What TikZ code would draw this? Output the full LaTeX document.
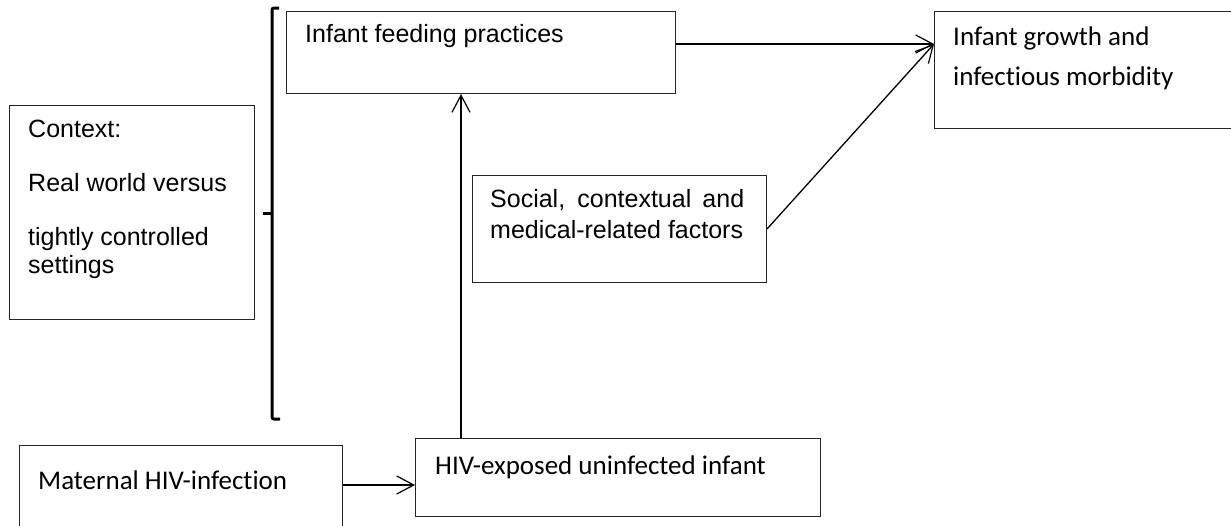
\documentclass[tikz,border=0pt]{standalone}
\usepackage{fontspec}
\setmainfont{Liberation Sans}
\newfontfamily\calibrifont[Ligatures={NoCommon,NoContextual}]{Carlito}
\usetikzlibrary{arrows.meta}
\tikzset{
  box/.style={draw=black!85, line width=1pt, inner sep=0pt, anchor=north west},
  ar/.style={font=\fontsize{25}{28}\selectfont, inner sep=0pt, anchor=base west},
  cb/.style={font=\calibrifont\fontsize{27}{32}\selectfont, inner sep=0pt, anchor=base west},
  arr/.style={line width=1.3pt, -{Straight Barb[length=17pt,width=18pt,line width=1.2pt]}},
  brk/.style={line width=3pt, rounded corners=2pt}
}
\begin{document}
\begin{tikzpicture}[x=1pt,y=-1pt]
\useasboundingbox (0,0) rectangle (1231,525);
% boxes
\node[box, minimum width=389pt, minimum height=82pt] (feed) at (286,11) {};
\node[box, minimum width=306pt, minimum height=117pt] (growth) at (934,11) {};
\node[box, minimum width=245pt, minimum height=214pt] (context) at (9,105) {};
\node[box, minimum width=294pt, minimum height=107pt] (social) at (472,175) {};
\node[box, minimum width=323pt, minimum height=100pt] (mat) at (19,445) {};
\node[box, minimum width=405pt, minimum height=78pt] (hiv) at (415,438) {};
% texts
\node[ar] (tfeed) at (305,42) {Infant feeding practices};
\node[cb] (tgrow1) at (953,45) {Infant growth and};
\node[cb] (tgrow2) at (953,85) {infectious morbidity};
\node[ar] (tctx1) at (28,137) {Context:};
\node[ar] (tctx2) at (28,191) {Real world versus};
\node[ar] (tctx3) at (28,245) {tightly controlled};
\node[ar] (tctx4) at (28,273) {settings};
\node[ar] (tsoc1) at (490,207) {\makebox[254pt][s]{Social, contextual and}};
\node[ar] (tsoc2) at (490,238) {medical-related factors};
\node[cb] (tmat) at (38,489) {Maternal HIV-infection};
\node[cb] (thiv) at (435,474) {HIV-exposed uninfected infant};
% bracket
\coordinate (bt) at (279,8);
\coordinate (bb) at (280,419);
\coordinate (bm) at (272,213);
\coordinate (bmt) at (263,213);
\draw[brk] (bt) -- (272,8) -- (272,419) -- (bb);
\draw[line width=3pt] (bm) -- (bmt);
% connectors
\coordinate (gin) at (934,44);
\coordinate (vx) at (461,0);
\draw[arr] (feed.east |- gin) -- (gin);
\draw[arr] (social.east) -- (gin);
\draw[arr] (hiv.north -| vx) -- (feed.south -| vx);
\draw[arr] (mat.east |- 0,485) -- (hiv.west |- 0,485);
\end{tikzpicture}
\end{document}
